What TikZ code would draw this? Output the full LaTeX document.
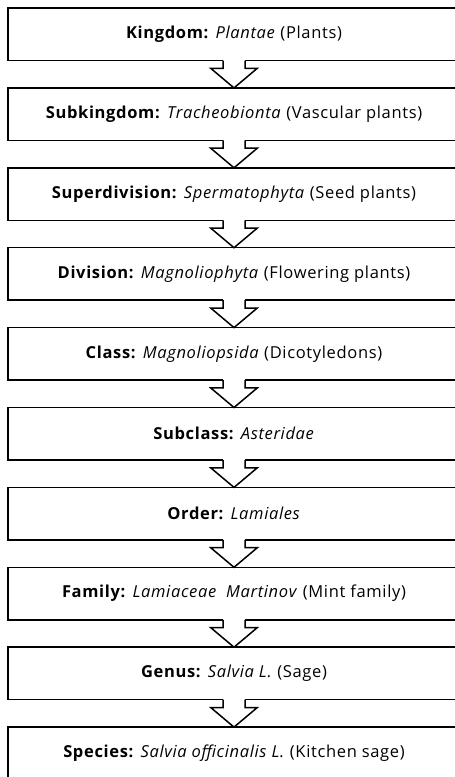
\documentclass[tikz,border=0pt]{standalone}
\usepackage{fontspec}
\setmainfont{Open Sans}[LetterSpace=4]
\usetikzlibrary{calc}
\begin{document}
\begin{tikzpicture}[x=1pt,y=-1pt,
  taxbox/.style={draw=black, line width=1.5pt, minimum width=452pt, minimum height=52.5pt,
    inner sep=0pt, outer sep=0pt, fill=white, font=\fontsize{16.5}{19}\selectfont},
  arrowline/.style={draw=black, line width=1.5pt, line join=miter},
  arrowfill/.style={fill=white}]
\useasboundingbox (0,0) rectangle (455,777);
\clip (0,0) rectangle (455,777);
\fill[white] (0,0) rectangle (455,777);
\node[taxbox] (b1)  at (234, 34.25)  {\textbf{Kingdom:} \textit{Plantae} (Plants)};
\node[taxbox] (b2)  at (234, 114.15) {\textbf{Subkingdom:} \textit{Tracheobionta} (Vascular plants)};
\node[taxbox] (b3)  at (234, 194.05) {\textbf{Superdivision:} \textit{Spermatophyta} (Seed plants)};
\node[taxbox] (b4)  at (234, 273.95) {\textbf{Division:} \textit{Magnoliophyta} (Flowering plants)};
\node[taxbox] (b5)  at (234, 353.85) {\textbf{Class:} \textit{Magnoliopsida} (Dicotyledons)};
\node[taxbox] (b6)  at (234, 433.75) {\textbf{Subclass:} \textit{Asteridae}};
\node[taxbox] (b7)  at (234, 513.65) {\textbf{Order:} \textit{Lamiales}};
\node[taxbox] (b8)  at (234, 593.55) {\textbf{Family:} \textit{Lamiaceae\ \ Martinov} (Mint family)};
\node[taxbox] (b9)  at (234, 673.45) {\textbf{Genus:} \textit{Salvia L.} (Sage)};
\node[taxbox] (b10) at (234, 753.35) {\textbf{Species:} \textit{Salvia officinalis L.} (Kitchen sage)};
\foreach \p/\q in {b1/b2,b2/b3,b3/b4,b4/b5,b5/b6,b6/b7,b7/b8,b8/b9,b9/b10}{
  \fill[arrowfill] ($(\p.south)+(-11,-2)$) -- ($(\p.south)+(-11,7.8)$) -- ($(\p.south)+(-23.3,7.8)$)
     -- (\q.north) -- ($(\p.south)+(23.3,7.8)$) -- ($(\p.south)+(11,7.8)$) -- ($(\p.south)+(11,-2)$) -- cycle;
  \draw[arrowline] ($(\p.south)+(-11,0)$) -- ($(\p.south)+(-11,7.8)$) -- ($(\p.south)+(-23.3,7.8)$)
     -- (\q.north) -- ($(\p.south)+(23.3,7.8)$) -- ($(\p.south)+(11,7.8)$) -- ($(\p.south)+(11,0)$);
}
\end{tikzpicture}
\end{document}
